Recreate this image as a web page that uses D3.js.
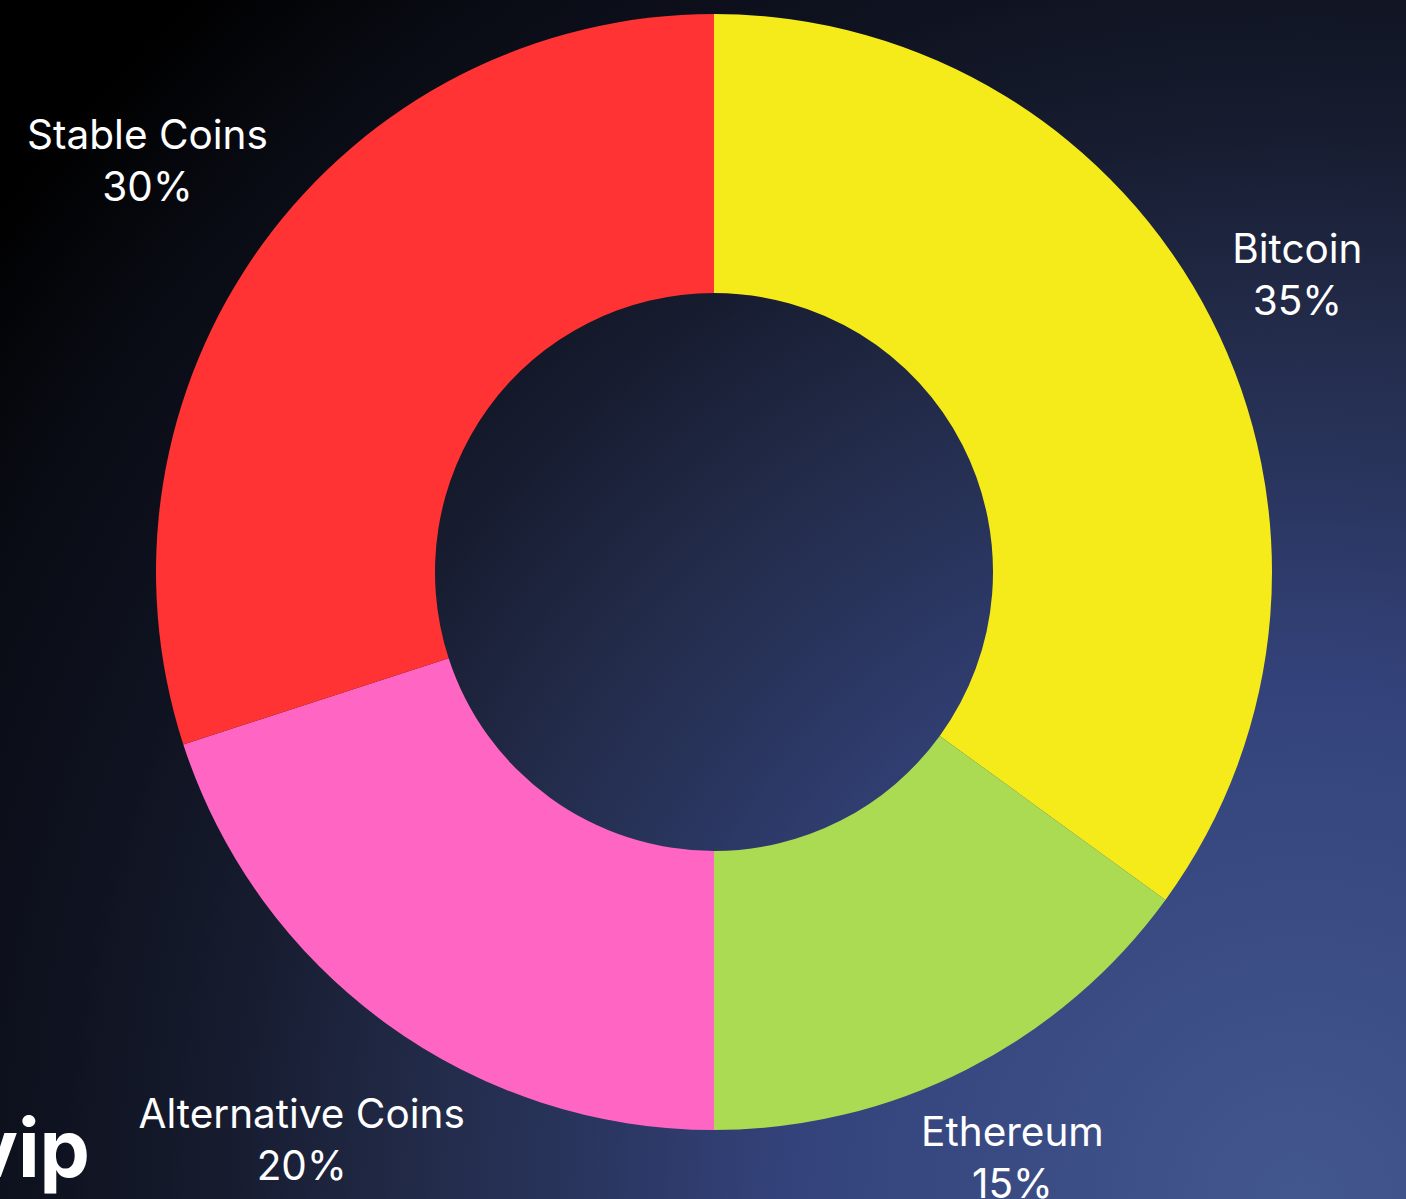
<!DOCTYPE html>
<html>
<head>
<meta charset="utf-8">
<script src="https://cdn.jsdelivr.net/npm/d3@7"></script>
<style>
  html, body { margin: 0; padding: 0; background: #000; overflow: hidden; }
  svg { display: block; }
</style>
</head>
<body>
<div id="chart"></div>
<script>
// Portfolio allocation
const categories = ['Bitcoin', 'Ethereum', 'Alternative Coins', 'Stable Coins'];
const shares = [35, 15, 20, 30];
const sliceColors = ['#f5eb1a', '#abdb52', '#ff66c4', '#ff3333'];

const width = 1406;
const height = 1199;
const cx = 714;
const cy = 572;
const outerR = 558;
const innerR = 279;
const labelGap = 16; // nearest corner of a label box sits this far outside the ring

const svg = d3.select('#chart')
  .append('svg')
  .attr('width', width)
  .attr('height', height);

// background glow coming from the lower right corner
const defs = svg.append('defs');
const bg = defs.append('radialGradient')
  .attr('id', 'bg')
  .attr('gradientUnits', 'userSpaceOnUse')
  .attr('cx', 1300).attr('cy', 1199).attr('r', 1720);
[
  [0, '#43578f'],
  [0.3, '#33427a'],
  [0.5, '#232c4b'],
  [0.63, '#161b2e'],
  [0.72, '#0f1321'],
  [0.85, '#090b13'],
  [0.95, '#000000'],
  [1, '#000000'],
].forEach(([o, c]) => bg.append('stop').attr('offset', o).attr('stop-color', c));

svg.append('rect')
  .attr('width', width)
  .attr('height', height)
  .attr('fill', 'url(#bg)');

const color = d3.scaleOrdinal().domain(categories).range(sliceColors);

const pie = d3.pie()
  .value((d, i) => shares[i])
  .sort(null);

const arcs = pie(categories);

const arc = d3.arc()
  .innerRadius(innerR)
  .outerRadius(outerR);

const g = svg.append('g').attr('transform', `translate(${cx},${cy})`);

g.selectAll('path.slice')
  .data(arcs)
  .join('path')
  .attr('class', 'slice')
  .attr('d', arc)
  .attr('fill', d => color(d.data));

// labels: pushed out along the mid angle until the box clears the ring
const labelR = outerR + labelGap;
const labels = g.selectAll('text.label')
  .data(arcs)
  .join('text')
  .attr('class', 'label')
  .attr('text-anchor', 'middle')
  .attr('fill', '#ffffff')
  .style('font-family', 'Inter, "Open Sans", sans-serif')
  .style('font-size', '40.5px');

labels.append('tspan')
  .attr('x', 0)
  .attr('dy', 0)
  .text(d => d.data);
labels.append('tspan')
  .attr('x', 0)
  .attr('dy', '1.28em')
  .text((d, i) => shares[i] + '%');

labels.each(function (d) {
  const a = (d.startAngle + d.endAngle) / 2;
  const ux = Math.sin(a);
  const uy = -Math.cos(a);
  const box = this.getBBox();
  const hw = box.width / 2;
  const hh = box.height / 2;
  // inner corner offset relative to box centre (pointing back toward the ring)
  const kx = -Math.sign(ux) * hw;
  const ky = -Math.sign(uy) * hh;
  // distance t along the ray where |t*u + k| = labelR
  const b = ux * kx + uy * ky;
  const t = -b + Math.sqrt(b * b - (kx * kx + ky * ky) + labelR * labelR);
  const midX = box.x + hw;
  const midY = box.y + hh;
  const x = ux * t - midX;
  const y = uy * t - midY;
  d3.select(this).attr('transform', `translate(${x},${y})`);
});

// watermark fragment at the lower left edge
svg.append('text')
  .attr('x', 90)
  .attr('y', 1177)
  .attr('text-anchor', 'end')
  .attr('fill', '#ffffff')
  .style('font-family', 'Inter, sans-serif')
  .style('font-weight', 700)
  .style('font-size', '80px')
  .text('vip');
</script>
</body>
</html>
